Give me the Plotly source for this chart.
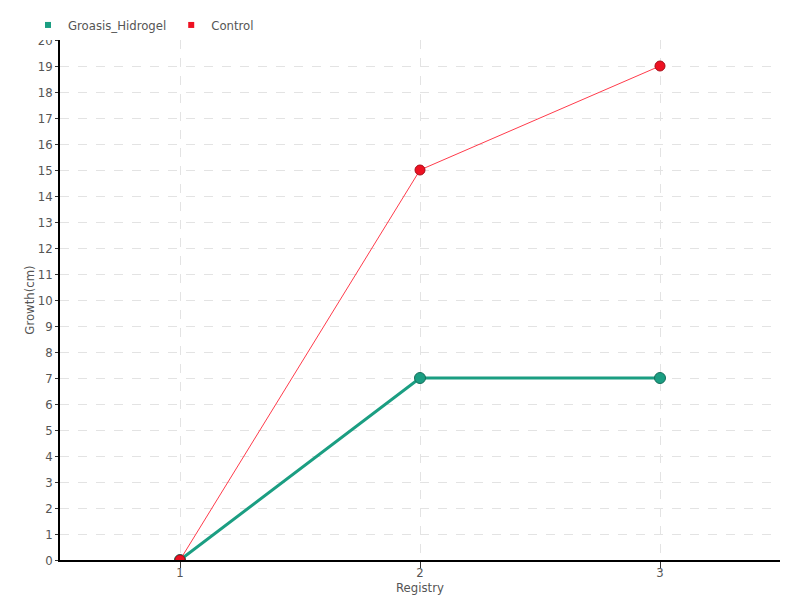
import plotly.graph_objects as go

registry = [1, 2, 3]
groasis = [0, 7, 7]
control = [0, 15, 19]
y_ticks = list(range(0, 21))

green = "#1b9e82"
red = "#ee1122"
font = dict(family="DejaVu Sans Condensed, DejaVu Sans", size=13, color="#555555")

fig = go.Figure()
fig.add_trace(go.Scatter(x=registry, y=groasis, mode="lines+markers", name="Groasis_Hidrogel",
                         line=dict(color=green, width=3),
                         marker=dict(size=11, color=green, line=dict(color="#156f5c", width=1)),
                         showlegend=False))
fig.add_trace(go.Scatter(x=registry, y=control, mode="lines+markers", name="Control",
                         line=dict(color="#ff3b4b", width=1),
                         marker=dict(size=10, color=red, line=dict(color="#a80d18", width=1)),
                         showlegend=False))
fig.add_trace(go.Scatter(x=[None], y=[None], mode="markers", name="Groasis_Hidrogel",
                         marker=dict(symbol="square", size=6, color=green)))
fig.add_trace(go.Scatter(x=[None], y=[None], mode="markers", name="Control",
                         marker=dict(symbol="square", size=6, color=red)))

fig.update_layout(
    width=800, height=600,
    margin=dict(l=60, r=20, t=40, b=40, autoexpand=False),
    paper_bgcolor="white", plot_bgcolor="white",
    font=font,
    legend=dict(orientation="h", x=0.035, xref="container", y=1 - 10 / 600, yref="container",
                yanchor="top", xanchor="left", itemwidth=30, font=dict(size=13),
                tracegroupgap=0, itemsizing="trace"),
    xaxis=dict(range=[0.5, 3.5], tickvals=registry, ticktext=[str(v) for v in registry],
               showline=True, linecolor="black", linewidth=1.5, automargin=False,
               ticks="", ticklen=0,
               minor=dict(ticks="outside", ticklen=6, tickcolor="#333", tickwidth=1,
                          tick0=1, dtick=1, showgrid=False),
               showgrid=True, gridcolor="#e3e3e3", griddash="dash", gridwidth=1,
               zeroline=False,
               title=dict(text="Registry", standoff=0, font=dict(size=13))),
    yaxis=dict(range=[0, 20], tickvals=y_ticks, automargin=False,
               showline=True, linecolor="black", linewidth=1.5,
               ticks="outside", ticklen=3, tickcolor="#333", tickwidth=1,
               showgrid=True, gridcolor="#e3e3e3", griddash="dash", gridwidth=1,
               zeroline=False,
               title=dict(text="Growth(cm)", standoff=0, font=dict(size=13))),
)
fig.write_html("out.html", config={"displayModeBar": False},
               post_script="document.body.style.margin='0';")
